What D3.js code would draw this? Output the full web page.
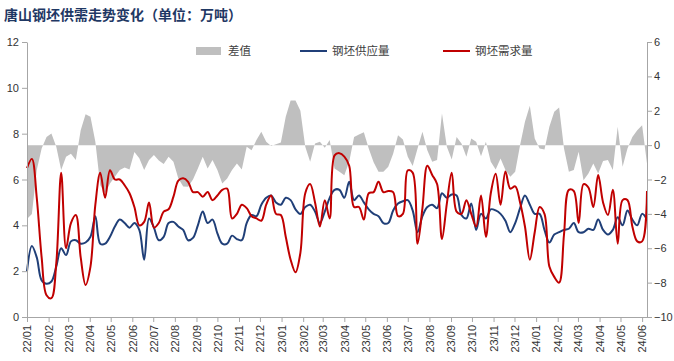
<!DOCTYPE html>
<html>
<head>
<meta charset="utf-8">
<script src="https://cdn.jsdelivr.net/npm/d3@7"></script>
<style>
  body { margin: 0; background: #fff; }
  svg { display: block; }
</style>
</head>
<body>
<div id="chart"></div>
<script>
const WIDTH = 674;
const HEIGHT = 361;

// weekly data, first week 2022-01-07
const startDate = new Date(2022, 0, 7);

const monthLabels = [
  "22/01", "22/02", "22/03", "22/04", "22/05", "22/06", "22/07", "22/08", "22/09", "22/10", "22/11", "22/12",
  "23/01", "23/02", "23/03", "23/04", "23/05", "23/06", "23/07", "23/08", "23/09", "23/10", "23/11", "23/12",
  "24/01", "24/02", "24/03", "24/04", "24/05", "24/06"
];

// 钢坯供应量
const supply = [
  2.0, 3.1, 2.6, 1.6, 1.45, 1.55, 2.2, 3.0, 2.7, 3.3,
  3.35, 3.2, 3.25, 3.5, 4.4, 3.2, 3.2, 3.5, 3.95, 4.25,
  4.1, 3.9, 4.1, 3.8, 2.5, 4.3, 3.9, 3.35, 3.5, 4.1,
  4.15, 3.95, 3.8, 3.35, 3.45, 4.0, 4.6, 4.1, 4.25, 3.65,
  3.2, 3.2, 3.55, 3.4, 3.35, 4.1, 4.45, 4.4, 4.9, 5.2,
  5.3, 5.0, 4.9, 5.2, 5.1, 4.7, 4.5, 4.8, 4.9, 4.6,
  4.1, 4.6, 5.2, 5.55, 5.55, 5.2, 5.9, 5.1, 5.3, 5.0,
  4.7, 4.5, 4.4, 4.1, 4.1, 4.65, 4.95, 5.05, 5.1, 4.65,
  3.7, 4.4, 4.8, 4.9, 4.75, 5.4, 5.2, 5.35, 5.3, 4.45,
  4.3, 4.95, 3.8, 4.5, 4.3, 4.7, 4.65, 4.5, 4.2, 3.7,
  4.1, 4.75, 5.3, 4.9, 4.5, 4.5, 3.8, 3.25, 3.6, 3.7,
  3.8, 3.85, 4.1, 3.7, 3.7, 3.85, 3.8, 4.25, 3.8, 3.6,
  3.8, 4.35, 4.0, 4.65, 4.25, 4.0, 4.5, 4.25
];

// 钢坯需求量
const demand = [
  6.5, 6.9, 5.2, 2.6, 0.95, 0.82, 2.35, 6.3, 3.0, 4.1,
  4.45, 2.6, 1.4, 2.2, 4.9, 6.3, 5.2, 6.4, 6.0, 6.0,
  5.75, 5.4, 4.8, 4.0, 4.15, 5.0, 3.9, 4.1, 4.6, 4.7,
  5.25, 5.95, 6.05, 5.9, 5.45, 5.45, 5.25, 5.45, 5.1, 5.3,
  5.55, 5.6, 4.3, 4.5, 4.9, 4.75, 4.4, 4.3, 4.2, 4.9,
  5.3, 4.5, 4.45, 3.5, 2.5, 1.95, 2.8, 5.4, 5.8, 5.0,
  3.95, 5.1, 4.3, 7.05, 7.15, 7.0, 6.6, 4.8, 4.8, 4.25,
  5.4, 5.45, 5.9, 5.45, 5.5, 5.45, 4.4, 4.5, 6.4, 6.3,
  3.2, 4.75, 6.6, 6.2, 5.8, 3.4, 4.95, 6.3, 4.6, 4.5,
  5.1, 4.5, 3.95, 5.3, 3.5, 5.4, 6.25, 4.9, 6.35, 5.6,
  5.7, 5.0, 3.95, 2.5, 3.7, 4.8, 4.5, 2.2, 1.75, 1.5,
  3.6, 5.55, 5.5, 4.1, 5.8, 5.65, 4.8, 6.2, 5.0, 4.45,
  5.55, 3.2, 5.1, 5.1, 3.95, 3.3, 3.3, 5.5
];

// 差值 (right axis)
const diff = [
  -4.3, -4.0, -1.45, -0.2, 0.48, 0.68, -0.1, -1.45, -0.68, -0.5,
  -0.87, 0.87, 1.8, 1.65, 0.2, -2.33, -2.8, -2.23, -1.84, -1.45,
  -1.3, -1.42, -0.4, -0.77, -1.45, -0.87, -0.58, -0.9, -1.1, -0.68,
  -0.97, -1.94, -2.4, -2.42, -2.0, -1.36, -0.68, -1.36, -0.87, -1.45,
  -2.23, -1.94, -1.45, -1.07, -1.42, -0.1, -0.3, 0.3, 0.78, 0.2,
  -0.05, 0.05, 0.15, 1.65, 2.6, 2.6, 2.0, -0.1, -0.97, 0.1,
  0.2, -0.15, 0.3, -1.36, -1.55, -1.75, -0.97, 0.48, 0.62, 0.75,
  -0.2, -1.0, -1.55, -1.55, -1.26, -0.5, 0.58, 0.33, -0.68, -1.22,
  -0.2, 0.78, -0.3, -0.97, -0.87, 1.84, -0.1, -0.83, 0.48, 0.1,
  -0.68, 0.39, 0.2, -0.64, 0.2, -0.97, -1.42, -0.78, -1.45, -1.84,
  -1.55, 0, 1.36, 2.29, 0.39, -0.2, -0.25, 1.07, 1.94, 2.19,
  -0.2, -1.55, -1.45, -0.39, -2.04, -1.65, -1.07, -1.65, -0.93, -0.87,
  -1.45, 1.07, -1.26, -0.2, 0.48, 0.87, 1.16, -1.07
];

const leftTicks = [0, 2, 4, 6, 8, 10, 12];
const rightTicks = [-10, -8, -6, -4, -2, 0, 2, 4, 6];

const dates = supply.map((_, i) => d3.timeDay.offset(startDate, i * 7));
const tickDates = monthLabels.map((_, k) => d3.timeMonth.offset(startDate, k));

const margin = { top: 42, right: 27, bottom: 44, left: 27 };
const plotR = WIDTH - margin.right;
const plotB = HEIGHT - margin.bottom;

const svg = d3.select("#chart")
    .append("svg")
    .attr("width", WIDTH)
    .attr("height", HEIGHT)
    .style("font-family", "'Liberation Sans', Arial, sans-serif");

const x = d3.scaleTime()
    .domain([dates[0], dates[dates.length - 1]])
    .range([margin.left, plotR]);

const yL = d3.scaleLinear().domain([0, 12]).range([plotB, margin.top]);
const yR = d3.scaleLinear().domain([-10, 6]).range([plotB, margin.top]);

// === TITLE ===
svg.append("text")
    .attr("x", 4)
    .attr("y", 20)
    .attr("fill", "#1f3864")
    .style("font-family", "'Noto Sans CJK SC', sans-serif")
    .style("font-weight", "bold")
    .style("font-size", "14px")
    .text("唐山钢坯供需走势变化（单位：万吨）");

// === DIFF AREA ===
const area = d3.area()
    .x((d, i) => x(dates[i]))
    .y0(yR(0))
    .y1(d => yR(d));

svg.append("path")
    .datum(diff)
    .attr("fill", "#bfbfbf")
    .attr("d", area);

// === LINES ===
const line = d3.line()
    .x((d, i) => x(dates[i]))
    .y(d => yL(d))
    .curve(d3.curveCatmullRom.alpha(0.5));

svg.append("path")
    .datum(supply)
    .attr("fill", "none")
    .attr("stroke", "#203f78")
    .attr("stroke-width", 2)
    .attr("d", line);

svg.append("path")
    .datum(demand)
    .attr("fill", "none")
    .attr("stroke", "#c00000")
    .attr("stroke-width", 2)
    .attr("d", line);

// === AXES ===
const axisColor = "#a6a6a6";

function styleAxis(g) {
    g.select(".domain").attr("stroke", axisColor);
    g.selectAll(".tick line").attr("stroke", axisColor);
    g.selectAll(".tick text").attr("fill", "#333").style("font-size", "11px");
}

svg.append("g")
    .attr("transform", `translate(${margin.left},0)`)
    .call(d3.axisLeft(yL).tickValues(leftTicks).tickSize(5).tickSizeOuter(0).tickPadding(3))
    .call(styleAxis);

svg.append("g")
    .attr("transform", `translate(${plotR},0)`)
    .call(d3.axisRight(yR).tickValues(rightTicks).tickSize(5).tickSizeOuter(0).tickPadding(2))
    .call(styleAxis);

const xAxis = svg.append("g")
    .attr("transform", `translate(0,${plotB})`)
    .call(d3.axisBottom(x)
        .tickValues(tickDates)
        .tickFormat((d, i) => monthLabels[i])
        .tickSize(5)
        .tickSizeOuter(0))
    .call(styleAxis);

xAxis.selectAll(".tick text")
    .attr("transform", "rotate(-90)")
    .attr("text-anchor", "end")
    .attr("x", -8)
    .attr("y", 0)
    .attr("dy", "0.35em");

// === LEGEND ===
const legend = svg.append("g")
    .style("font-family", "'Noto Sans CJK SC', sans-serif")
    .style("font-size", "11.5px")
    .attr("fill", "#404040");

legend.append("rect")
    .attr("x", 196).attr("y", 47)
    .attr("width", 25).attr("height", 8)
    .attr("fill", "#bfbfbf");
legend.append("text").attr("x", 228).attr("y", 55).text("差值");

legend.append("line")
    .attr("x1", 300).attr("x2", 327).attr("y1", 51).attr("y2", 51)
    .attr("stroke", "#203f78").attr("stroke-width", 2);
legend.append("text").attr("x", 332).attr("y", 55).text("钢坯供应量");

legend.append("line")
    .attr("x1", 443).attr("x2", 470).attr("y1", 51).attr("y2", 51)
    .attr("stroke", "#c00000").attr("stroke-width", 2);
legend.append("text").attr("x", 475).attr("y", 55).text("钢坯需求量");
</script>
</body>
</html>
